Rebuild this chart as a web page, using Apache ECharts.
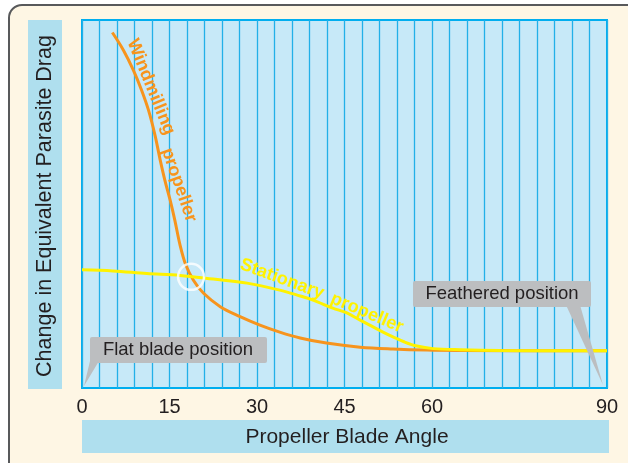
<!DOCTYPE html>
<html>
<head>
<meta charset="utf-8">
<script src="https://cdn.jsdelivr.net/npm/echarts@6/dist/echarts.min.js"></script>
<style>
html,body{margin:0;padding:0;width:628px;height:463px;overflow:hidden;background:#fff;}
#panel{position:absolute;left:8px;top:4px;width:700px;height:500px;border:2px solid #58595B;border-radius:14px;background:#FEF6E4;}
#chart{position:absolute;left:0;top:0;width:628px;height:463px;}
</style>
</head>
<body>
<div id="panel"></div>
<div id="chart"></div>
<script>
// ---- data ----
const tickLabels = [0, 15, 30, 45, 60, 90];
const windAngle = [5.2, 7.1, 8.8, 10.2, 11.4, 12.5, 13.4, 14.2, 15.1, 15.9, 16.8, 17.8, 19.1, 20.8, 23.7, 27.1, 30.5, 33.9, 37.4, 41.9, 47.7, 53.3, 59.1, 64.8, 90];
const windDrag  = [96.6, 91.8, 86.4, 81.0, 75.5, 68.8, 62.0, 56.5, 51.1, 45.7, 38.9, 33.4, 29.3, 25.8, 22.1, 19.4, 17.1, 15.2, 13.6, 12.2, 11.1, 10.6, 10.3, 10.2, 10.1];
const statAngle = [0, 5.3, 11.1, 16.8, 22.5, 28.3, 33.9, 37.4, 39.6, 43.0, 45.4, 47.6, 49.9, 51.6, 53.3, 55.3, 57.4, 60.2, 64.8, 71.7, 90];
const statDrag  = [32.1, 31.8, 31.1, 30.6, 29.6, 28.5, 26.6, 25.0, 23.9, 21.7, 20.4, 18.5, 16.6, 15.2, 13.9, 12.5, 11.4, 10.7, 10.4, 10.2, 10.1];
const crossAngle = [18.7];
const crossDrag = [30.2];

const zip = (a, b) => a.map((v, i) => [v, b[i]]);
const FONT = 'Liberation Sans, Arial, Helvetica, sans-serif';
const DEG = Math.PI / 180;

const chart = echarts.init(document.getElementById('chart'), null, {renderer: 'canvas'});
chart.setOption({
  animation: false,
  grid: {left: 82, top: 20, width: 525, height: 368, show: true,
         backgroundColor: '#C7E9F8', borderColor: '#00AEEF', borderWidth: 2},
  xAxis: {
    type: 'value', min: 0, max: 90, interval: 3,
    axisLine: {show: false}, axisTick: {show: false},
    splitLine: {show: true, lineStyle: {color: '#22B0E8', width: 1.3}},
    axisLabel: {show: true, margin: 9, fontSize: 20, color: '#231F20', fontFamily: FONT,
      formatter: v => tickLabels.includes(v) ? String(v) : ''}
  },
  yAxis: {type: 'value', min: 0, max: 100, show: false, splitLine: {show: false}},
  series: [
    {type: 'line', data: zip(windAngle, windDrag), smooth: 0.35, showSymbol: false,
     lineStyle: {color: '#F7941D', width: 3}, z: 3},
    {type: 'line', data: zip(statAngle, statDrag), smooth: 0.35, showSymbol: false,
     lineStyle: {color: '#FFF200', width: 3}, z: 4},
    {type: 'scatter', data: zip(crossAngle, crossDrag), symbol: 'circle', symbolSize: 26,
     itemStyle: {color: 'rgba(0,0,0,0)', borderColor: '#FFFFFF', borderWidth: 2.5}, z: 5}
  ],
  graphic: [
    {type: 'rect', shape: {x: 28, y: 20, width: 34, height: 369}, style: {fill: '#AFDFEE'}},
    {type: 'text', x: 45, y: 206, rotation: 90 * DEG,
     style: {text: 'Change in Equivalent Parasite Drag', fontSize: 21.5, fontFamily: FONT, fill: '#231F20', align: 'center', verticalAlign: 'middle'}},
    {type: 'rect', shape: {x: 82, y: 420, width: 527, height: 33}, style: {fill: '#AFDFEE'}},
    {type: 'text', x: 347, y: 437,
     style: {text: 'Propeller Blade Angle', fontSize: 21, fontFamily: FONT, fill: '#231F20', align: 'center', verticalAlign: 'middle'}},
    // curve labels
    {type: 'text', x: 151, y: 87, rotation: -68 * DEG, z: 10,
     style: {text: 'Windmilling', fontSize: 18, fontWeight: 'bold', fontFamily: FONT, fill: '#F7941D', align: 'center', verticalAlign: 'middle'}},
    {type: 'text', x: 179, y: 185, rotation: -71 * DEG, z: 10,
     style: {text: 'propeller', fontSize: 18, fontWeight: 'bold', fontFamily: FONT, fill: '#F7941D', align: 'center', verticalAlign: 'middle'}},
    {type: 'text', x: 282, y: 279, rotation: -20 * DEG, z: 10,
     style: {text: 'Stationary', fontSize: 18, fontWeight: 'bold', fontFamily: FONT, fill: '#FFF200', align: 'center', verticalAlign: 'middle'}},
    {type: 'text', x: 367, y: 313, rotation: -23 * DEG, z: 10,
     style: {text: 'propeller', fontSize: 18, fontWeight: 'bold', fontFamily: FONT, fill: '#FFF200', align: 'center', verticalAlign: 'middle'}},
    // callouts
    {type: 'polygon', z: 10, shape: {points: [[90, 361], [99, 361], [84, 386]]}, style: {fill: '#BCBEC0'}},
    {type: 'rect', z: 10, shape: {x: 90, y: 337, width: 177, height: 26, r: 2}, style: {fill: '#BCBEC0'}},
    {type: 'text', z: 11, x: 178, y: 350,
     style: {text: 'Flat blade position', fontSize: 18.5, fontFamily: FONT, fill: '#231F20', align: 'center', verticalAlign: 'middle'}},
    {type: 'polygon', z: 10, shape: {points: [[566, 305], [580, 305], [603, 385]]}, style: {fill: '#BCBEC0'}},
    {type: 'rect', z: 10, shape: {x: 413, y: 281, width: 178, height: 26, r: 2}, style: {fill: '#BCBEC0'}},
    {type: 'text', z: 11, x: 502, y: 294,
     style: {text: 'Feathered position', fontSize: 18.5, fontFamily: FONT, fill: '#231F20', align: 'center', verticalAlign: 'middle'}}
  ]
});
</script>
</body>
</html>
